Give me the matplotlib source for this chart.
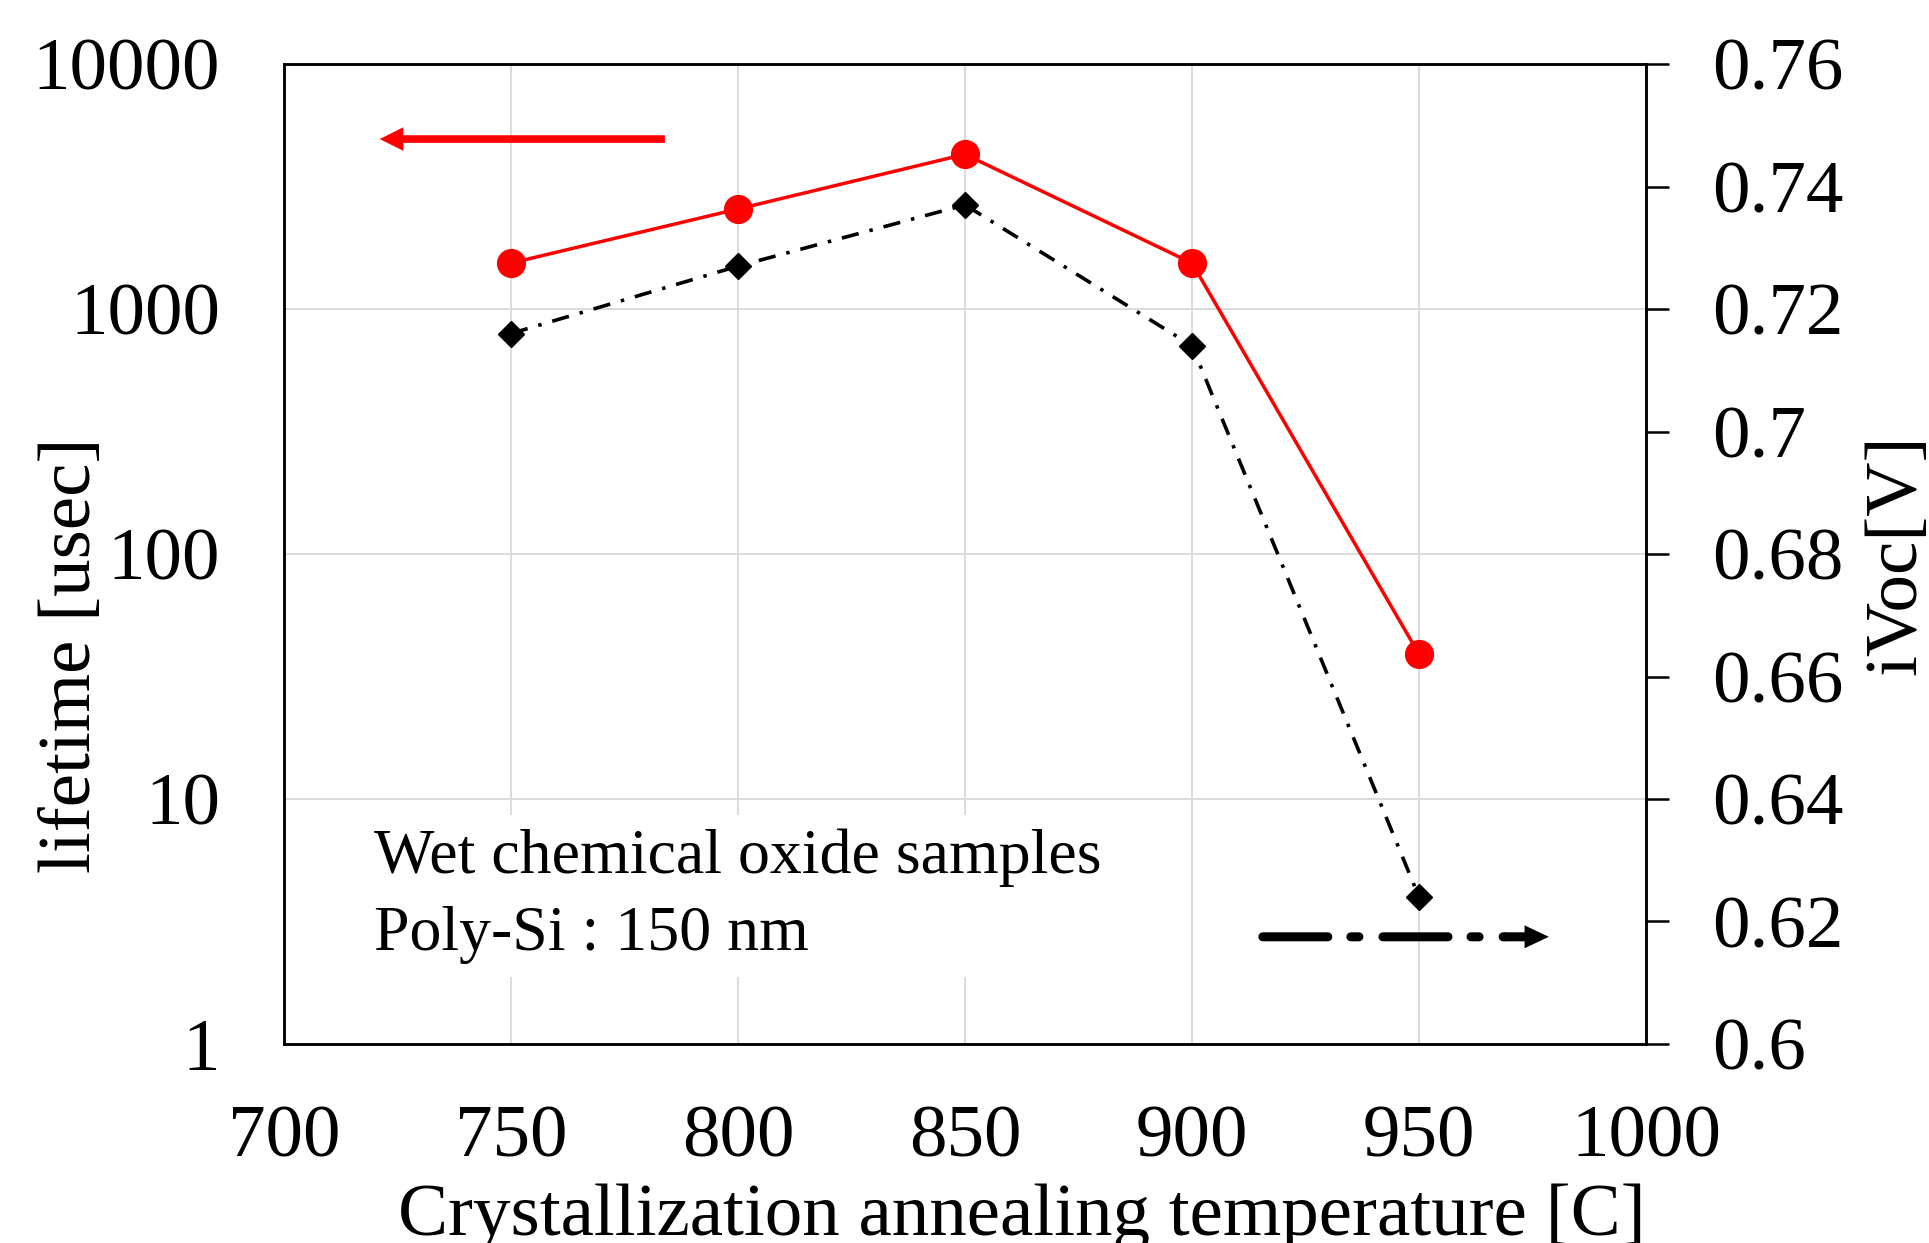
import matplotlib
import numpy as np
from matplotlib import pyplot as plt

matplotlib.use("Agg")

plt.rcParams["font.family"] = ["Liberation Serif", "DejaVu Serif"]
plt.rcParams["lines.scale_dashes"] = False

# data
temps = [750, 800, 850, 900, 950]
lifetime_us = [1540, 2560, 4280, 1540, 39]
ivoc_v = [0.716, 0.727, 0.737, 0.714, 0.624]

x_ticks = [700, 750, 800, 850, 900, 950, 1000]
life_ticks = [1, 10, 100, 1000, 10000]
ivoc_ticks = [0.6, 0.62, 0.64, 0.66, 0.68, 0.7, 0.72, 0.74, 0.76]

note_lines = ["Wet chemical oxide samples", "Poly-Si : 150 nm"]

# axis-pointer arrows (tail, head) in data coords
red_arrow = ((783.9, 4940), (721.1, 4940))
blk_arrow_dash = ((915.6, 0.6175), (968.7, 0.6175))
blk_arrow_head = ((968.7, 0.6175), (978.6, 0.6175))

FS = 54
SP = 1.8

fig = plt.figure(figsize=(19.29, 12.43), dpi=100)
ax = fig.add_axes([0.1472, 0.1601, 0.7061, 0.7884])
ax2 = ax.twinx()

ax.set_yscale("log")
ax.set_xlim(700, 1000)
ax.set_ylim(1, 10000)
ax2.set_ylim(0.6, 0.76)

ax.set_xticks(x_ticks, [str(t) for t in x_ticks])
ax.set_yticks(life_ticks, [str(t) for t in life_ticks])
ax.yaxis.set_minor_locator(matplotlib.ticker.NullLocator())
ax2.set_yticks(ivoc_ticks, [f"{t:g}" for t in ivoc_ticks])

ax.grid(True, color="#dadada", lw=1.4)
ax.set_axisbelow(True)

for a in (ax, ax2):
    for s in a.spines.values():
        s.set_linewidth(SP)
ax.tick_params(axis="x", length=0, pad=44, labelsize=FS)
ax.tick_params(axis="y", length=0, pad=46, labelsize=FS)
ax2.tick_params(axis="y", direction="out", length=16.5, width=SP, pad=31, labelsize=FS)

ax.plot(temps, lifetime_us, color="#ff0000", lw=2.5, marker="o", ms=20, zorder=4)
ax2.plot(temps, ivoc_v, color="black", lw=2.6, ls=(0, (12.5, 8, 2.5, 8)),
         marker="D", ms=13.5, zorder=4)

ax.annotate("", xy=red_arrow[1], xytext=red_arrow[0],
            arrowprops=dict(arrowstyle="simple,head_length=17,head_width=17,tail_width=5.5",
                            mutation_scale=1, color="#ff0000", lw=0,
                            shrinkA=0, shrinkB=0))
ax2.annotate("", xy=blk_arrow_dash[1], xytext=blk_arrow_dash[0],
             arrowprops=dict(arrowstyle="-", color="black", lw=6.5,
                             ls=(0, (46.8, 16.6, 5.8, 17.3)),
                             shrinkA=0, shrinkB=0))
ax2.annotate("", xy=blk_arrow_head[1], xytext=blk_arrow_head[0],
             arrowprops=dict(arrowstyle="simple,head_length=17.5,head_width=16.5,tail_width=6.5",
                             mutation_scale=1, color="black", lw=0,
                             shrinkA=0, shrinkB=0))

# va="baseline" pins the last line's baseline here
ax.text(0.066, 0.096, "\n".join(note_lines), transform=ax.transAxes,
        fontsize=46, ha="left", va="baseline", linespacing=1.44, zorder=3,
        bbox=dict(boxstyle="square,pad=0.2", fc="white", ec="none"))

ax.set_xlabel("Crystallization annealing temperature [C]", fontsize=54)
ax.xaxis.set_label_coords(0.542, -0.195)
ax.xaxis.label.set_va("baseline")

ax.set_ylabel("lifetime [usec]", fontsize=54)
ax.yaxis.set_label_coords(-0.1424, 0.397)
ax.yaxis.label.set(va="baseline", ha="center", rotation=90)

ax2.set_ylabel("iVoc[V]", fontsize=54)
ax2.yaxis.set_label_coords(1.198, 0.499)
ax2.yaxis.label.set(va="baseline", ha="center", rotation=90)

fig.savefig("out.png", dpi=100)
